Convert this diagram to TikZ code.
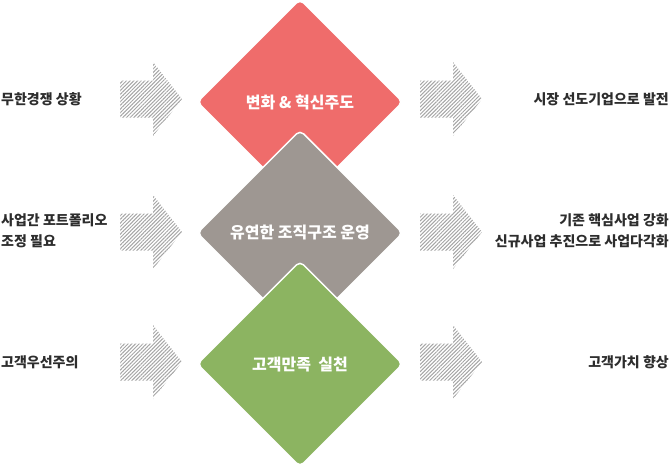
\documentclass[tikz,border=0pt]{standalone}
\usepackage{fontspec}
\newfontfamily\kr{Noto Sans CJK KR}
\usetikzlibrary{shapes.geometric,patterns.meta}
\definecolor{redD}{RGB}{239,108,107}
\definecolor{grayD}{RGB}{158,151,146}
\definecolor{greenD}{RGB}{140,180,97}
\definecolor{txt}{RGB}{45,45,45}
\definecolor{hatch}{RGB}{165,165,165}
\tikzset{
  dia/.style={diamond,aspect=1,minimum width=206pt,minimum height=206pt,inner sep=0pt,
    rounded corners=5pt,draw=white,line width=1.5pt,text=white,
    font=\kr\bfseries\fontsize{16}{19}\selectfont},
  lab/.style={text=txt,inner sep=0pt,font=\kr\bfseries\fontsize{14}{21}\selectfont},
  hatcharrow/.style={pattern={Lines[angle=45,distance=2.6pt,line width=1pt]},pattern color=hatch}
}
\newcommand{\hatchArrow}[2]{%
  \fill[hatcharrow] (#1,#2-18.5) -- (#1+33,#2-18.5) -- (#1+33,#2-37) -- (#1+62,#2)
    -- (#1+33,#2+37) -- (#1+33,#2+18.5) -- (#1,#2+18.5) -- cycle;}
\begin{document}
\begin{tikzpicture}[x=1pt,y=-1pt]
\useasboundingbox (0,0) rectangle (671,472);
% diamonds
\node[dia,fill=redD] (d1) at (300,102) {변화 \& 혁신주도};
\node[dia,fill=grayD] (d2) at (300,233) {유연한 조직구조 운영};
\node[dia,fill=greenD] (d3) at (300,364) {고객만족~~실천};
% arrows
\hatchArrow{120}{99}
\hatchArrow{420}{99}
\hatchArrow{120}{232}
\hatchArrow{420}{232}
\hatchArrow{120}{362}
\hatchArrow{420}{362}
% left labels
\node[lab,anchor=west] (l1) at (1,99) {무한경쟁 상황};
\node[lab,anchor=west,align=left] (l2) at (1,231) {사업간 포트폴리오\\조정 필요};
\node[lab,anchor=west] (l3) at (1,362) {고객우선주의};
% right labels
\node[lab,anchor=east] (r1) at (669,99) {시장 선도기업으로 발전};
\node[lab,anchor=east,align=right] (r2) at (669,231) {기존 핵심사업 강화\\신규사업 추진으로 사업다각화};
\node[lab,anchor=east] (r3) at (669,362) {고객가치 향상};
\end{tikzpicture}
\end{document}
